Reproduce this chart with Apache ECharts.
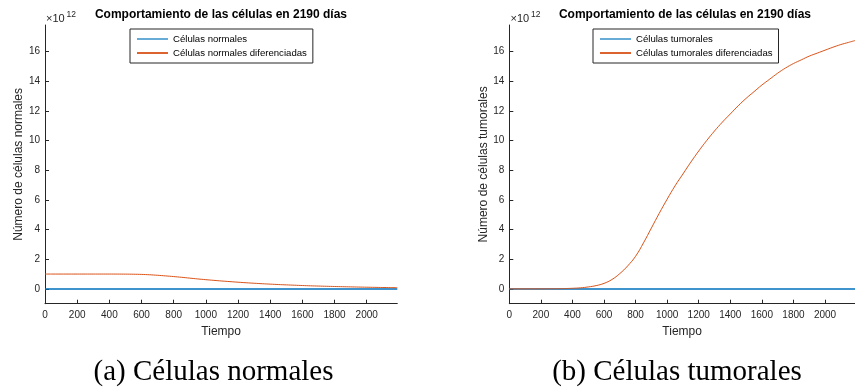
<!DOCTYPE html>
<html>
<head>
<meta charset="utf-8">
<script src="https://cdn.jsdelivr.net/npm/echarts@6/dist/echarts.min.js"></script>
<style>html,body{margin:0;padding:0;background:#fff;}#c{width:855px;height:389px;}</style>
</head>
<body>
<div id="c"></div>
<script>
// Time (days)
var tiempo = [0,50,100,150,200,250,300,350,400,450,500,550,600,650,700,750,800,850,900,950,1000,1050,1100,1150,1200,1250,1300,1350,1400,1450,1500,1550,1600,1650,1700,1750,1800,1850,1900,1950,2000,2050,2100,2150,2190];
// Values in units of 1e12 cells
var normales = [0,0,0,0,0,0,0,0,0,0,0,0,0,0,0,0,0,0,0,0,0,0,0,0,0,0,0,0,0,0,0,0,0,0,0,0,0,0,0,0,0,0,0,0,0];
var normalesDif = [1.00,1.00,1.00,1.00,1.00,1.00,1.00,1.00,1.00,0.998,0.995,0.988,0.975,0.952,0.917,0.875,0.83,0.78,0.725,0.67,0.62,0.575,0.53,0.49,0.45,0.413,0.38,0.348,0.32,0.293,0.27,0.247,0.226,0.207,0.19,0.174,0.16,0.147,0.135,0.123,0.112,0.102,0.093,0.085,0.079];
var tumorales = [0,0,0,0,0,0,0,0,0,0,0,0,0,0,0,0,0,0,0,0,0,0,0,0,0,0,0,0,0,0,0,0,0,0,0,0,0,0,0,0,0,0,0,0,0];
var tumoralesDif = [0,0,0,0.001,0.002,0.005,0.01,0.02,0.04,0.07,0.13,0.22,0.37,0.63,1.03,1.55,2.2,3.1,4.1,5.1,6.05,6.95,7.75,8.55,9.3,10.0,10.65,11.25,11.8,12.35,12.85,13.3,13.75,14.15,14.55,14.9,15.2,15.45,15.7,15.9,16.1,16.3,16.48,16.63,16.75];
var xTicks = [0,200,400,600,800,1000,1200,1400,1600,1800,2000];
var yTicks = [0,2,4,6,8,10,12,14,16];
var titulo = 'Comportamiento de las células en 2190 días';

function pairs(v){ return tiempo.map(function(t,i){ return [t, v[i]]; }); }

var FONT = '"Liberation Sans", Arial, Helvetica, sans-serif';
var AX = '#262626';
var BLUE = '#0072BD', ORANGE = '#D95319';

function xAx(idx){
  return {
    type:'value', gridIndex: idx, min:0, max:2190,
    name:'Tiempo', nameLocation:'middle', nameGap:21,
    nameTextStyle:{fontSize:12, color:AX, fontFamily:FONT},
    axisLine:{show:true, onZero:false, lineStyle:{color:AX, width:1}},
    axisTick:{show:true, inside:true, length:4, customValues:xTicks, lineStyle:{color:AX}},
    axisLabel:{show:true, customValues:xTicks, fontSize:10, color:AX, margin:7, fontFamily:FONT,
      formatter:function(v){ return String(v); }},
    splitLine:{show:false}
  };
}
function yAx(idx, name, gap){
  return {
    type:'value', gridIndex: idx, min:-1, max:17.8,
    name:name, nameLocation:'middle', nameGap:gap, nameRotate:90,
    nameTextStyle:{fontSize:12, color:AX, fontFamily:FONT},
    axisLine:{show:true, onZero:false, lineStyle:{color:AX, width:1}},
    axisTick:{show:true, inside:true, length:4, customValues:yTicks, lineStyle:{color:AX}},
    axisLabel:{show:true, customValues:yTicks, fontSize:10, color:AX, margin:5, fontFamily:FONT,
      formatter:function(v){ return String(v); }},
    splitLine:{show:false}
  };
}
function legend(left, names){
  return {
    data:[
      {name:names[0], icon:'path://M0,0H31V1.2H0Z'},
      {name:names[1], icon:'path://M0,0H31V1.8H0Z'}
    ],
    orient:'vertical', left:left, top:29,
    itemWidth:31, itemHeight:9, itemGap:4,
    padding:[5,6,5,7],
    borderColor:AX, borderWidth:1, backgroundColor:'#fff',
    textStyle:{fontSize:9.6, color:'#000', fontFamily:FONT, padding:[0,0,0,0]},
    selectedMode:false
  };
}
function txt(x,y,text,font,align){
  return {type:'text', silent:true, style:{x:x, y:y, text:text, font:font, fill:'#000', align:align||'center', verticalAlign:'middle', textAlign:align||'center', textVerticalAlign:'middle'}};
}

var chart = echarts.init(document.getElementById('c'), null, {renderer:'canvas'});
chart.setOption({
  animation:false,
  backgroundColor:'#fff',
  textStyle:{fontFamily:FONT},
  grid:[
    {left:45, top:25, width:352.3, height:278.7, containLabel:false},
    {left:509.3, top:25, width:351.3, height:278.7, containLabel:false}
  ],
  xAxis:[xAx(0), xAx(1)],
  yAxis:[yAx(0,'Número de células normales',15), yAx(1,'Número de células tumorales',15)],
  legend:[
    legend(130, ['Células normales','Células normales diferenciadas']),
    legend(593, ['Células tumorales','Células tumorales diferenciadas'])
  ],
  series:[
    {name:'Células normales', type:'line', xAxisIndex:0, yAxisIndex:0, data:pairs(normales), symbol:'none', lineStyle:{color:BLUE, width:1.5}, itemStyle:{color:BLUE}},
    {name:'Células normales diferenciadas', type:'line', xAxisIndex:0, yAxisIndex:0, data:pairs(normalesDif), symbol:'none', smooth:0.4, lineStyle:{color:ORANGE, width:1}, itemStyle:{color:ORANGE}},
    {name:'Células tumorales', type:'line', xAxisIndex:1, yAxisIndex:1, data:pairs(tumorales), symbol:'none', lineStyle:{color:BLUE, width:1.5}, itemStyle:{color:BLUE}},
    {name:'Células tumorales diferenciadas', type:'line', xAxisIndex:1, yAxisIndex:1, data:pairs(tumoralesDif), symbol:'none', smooth:0.4, lineStyle:{color:ORANGE, width:1}, itemStyle:{color:ORANGE}}
  ],
  graphic:[
    txt(221, 15, titulo, 'bold 12px '+FONT),
    txt(685, 15, titulo, 'bold 12px '+FONT),
    {type:'text', silent:true, style:{x:46, y:19, text:'×10', font:'11px '+FONT, fill:AX, align:'left', verticalAlign:'middle', textAlign:'left', textVerticalAlign:'middle'}},
    {type:'text', silent:true, style:{x:66.5, y:15, text:'12', font:'8.5px '+FONT, fill:AX, align:'left', verticalAlign:'middle', textAlign:'left', textVerticalAlign:'middle'}},
    {type:'text', silent:true, style:{x:510.5, y:19, text:'×10', font:'11px '+FONT, fill:AX, align:'left', verticalAlign:'middle', textAlign:'left', textVerticalAlign:'middle'}},
    {type:'text', silent:true, style:{x:531, y:15, text:'12', font:'8.5px '+FONT, fill:AX, align:'left', verticalAlign:'middle', textAlign:'left', textVerticalAlign:'middle'}},
    txt(213.5, 372, '(a) Células normales', '29px "Liberation Serif", "Times New Roman", serif'),
    txt(677, 372, '(b) Células tumorales', '29px "Liberation Serif", "Times New Roman", serif')
  ]
});
</script>
</body>
</html>
